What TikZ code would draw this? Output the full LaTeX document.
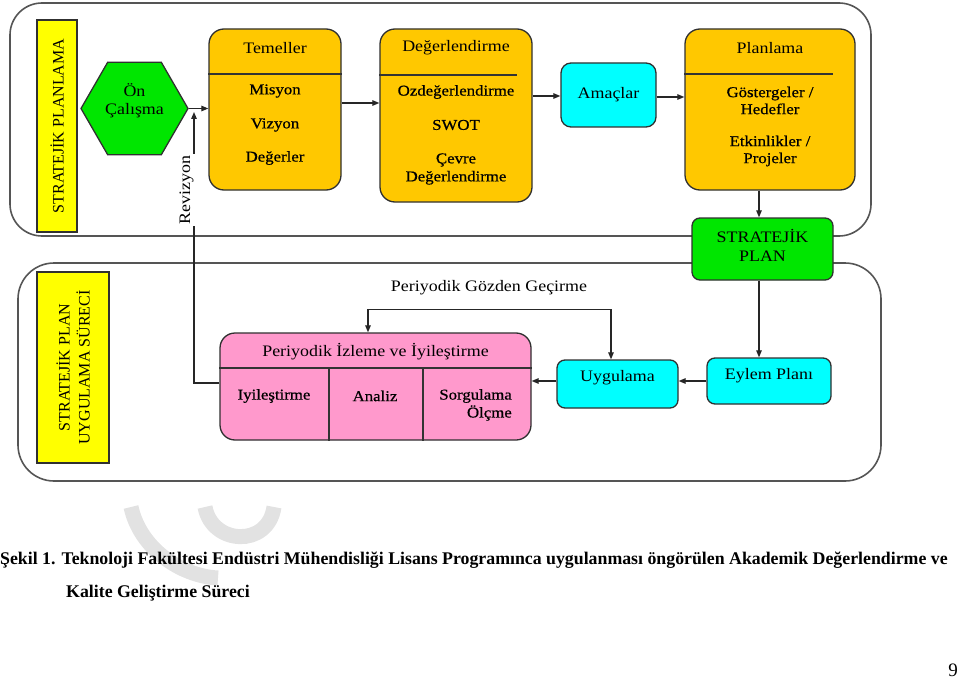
\documentclass[tikz,border=0pt]{standalone}
\usepackage{fontspec}
\setmainfont{Liberation Serif}
\newfontfamily\bxfont[FakeStretch=1.12]{Liberation Serif}
\newfontfamily\bxbold[FakeStretch=1.12,FakeBold=0.7]{Liberation Serif}
\usetikzlibrary{arrows.meta,shapes.geometric,calc}
\definecolor{yelL}{HTML}{FFFF00}
\definecolor{grnB}{HTML}{00E600}
\definecolor{orgB}{HTML}{FFC800}
\definecolor{cynB}{HTML}{00FFFF}
\definecolor{pnkB}{HTML}{FF99CC}
\definecolor{bord}{HTML}{303030}
\definecolor{frm}{HTML}{555555}
\definecolor{wmk}{HTML}{E2E2E2}
\tikzset{
  frame/.style={draw=frm, line width=1.6pt},
  box/.style={draw=bord, line width=1.3pt, inner sep=0pt},
  ttl/.style={font=\bxfont\fontsize{16}{18}\selectfont, inner sep=0pt, align=center},
  itm/.style={font=\bxbold\fontsize{15}{17}\selectfont, inner sep=0pt, align=center},
  lbl/.style={font=\fontsize{16}{20}\selectfont, inner sep=0pt, align=center, rotate=90},
  arr/.style={draw=black!85, line width=1.2pt, -{Triangle[length=7pt,width=5.5pt]}},
  arrtwo/.style={draw=black!85, line width=1.2pt, {Triangle[length=7pt,width=5.5pt]}-{Triangle[length=7pt,width=5.5pt]}},
  hline/.style={draw=black!80, line width=1.3pt},
}
\begin{document}
\begin{tikzpicture}[x=1pt,y=-1pt]
\useasboundingbox (0,0) rectangle (960,679);
% watermark remnants
\draw[wmk, line width=15pt] (131,507) .. controls (140,548) and (180,576) .. (218,578);
\draw[wmk, line width=15pt] (205,507) .. controls (212,545) and (268,548) .. (274,507);
% frames
\draw[frame, rounded corners=32pt] (10,3) rectangle (871,236);
\draw[frame, rounded corners=36pt] (18,263) rectangle (881,481);
% side labels
\node[box, fill=yelL, minimum width=40pt, minimum height=212pt] (lab1) at (57,126) {};
\node[lbl] at (lab1.center) {STRATEJİK PLANLAMA};
\node[box, fill=yelL, minimum width=72pt, minimum height=191pt] (lab2) at (73,367.5) {};
\node[lbl] at (lab2.center) {STRATEJİK PLAN\\UYGULAMA SÜRECİ};
% hexagon
\node[box, fill=grnB, regular polygon, regular polygon sides=6, minimum size=107pt] (hex) at (134.5,108.5) {};
\node[ttl] at (134.5,101) {Ön\\Çalışma};
% Temeller
\node[box, fill=orgB, rounded corners=15pt, minimum width=132pt, minimum height=161pt] (tem) at (275,109.5) {};
\node[ttl] at (275,48) {Temeller};
\draw[hline] (tem.west |- 0,74) -- (tem.east |- 0,74);
\node[itm] at (275,91) {Misyon};
\node[itm] at (275,125) {Vizyon};
\node[itm] at (275,158) {Değerler};
% Degerlendirme
\node[box, fill=orgB, rounded corners=15pt, minimum width=152pt, minimum height=173pt] (deg) at (456,115.5) {};
\node[ttl] at (456,48) {Değerlendirme};
\draw[hline] (deg.west |- 0,75) -- (517,75);
\node[itm] at (456,92) {Ozdeğerlendirme};
\node[itm] at (456,125) {SWOT};
\node[itm, font=\bxbold\fontsize{15}{18}\selectfont] at (456,169) {Çevre\\Değerlendirme};
% Amaclar
\node[box, fill=cynB, rounded corners=10pt, minimum width=95pt, minimum height=64pt] (amac) at (608.5,95) {};
\node[ttl] at (amac.center) {Amaçlar};
% Planlama
\node[box, fill=orgB, rounded corners=15pt, minimum width=170pt, minimum height=161pt] (plan) at (770,109.5) {};
\node[ttl] at (770,48) {Planlama};
\draw[hline] (plan.west |- 0,74) -- (833,74);
\node[itm] at (770,100.5) {Göstergeler /\\Hedefler};
\node[itm] at (770,151) {Etkinlikler /\\Projeler};
% Stratejik plan
\node[box, fill=grnB, rounded corners=8pt, minimum width=141pt, minimum height=62pt] (strat) at (762.5,249) {};
\node[ttl, font=\bxfont\fontsize{16}{19}\selectfont] at (762.5,245.5) {STRATEJİK\\PLAN};
% Pink
\node[box, fill=pnkB, rounded corners=15pt, minimum width=311pt, minimum height=107pt] (pink) at (375.5,386.5) {};
\node[ttl] at (375.5,352) {Periyodik İzleme ve İyileştirme};
\draw[hline] (pink.west |- 0,368) -- (pink.east |- 0,368);
\draw[hline] (329,368) -- (329,0 |- pink.south);
\draw[hline] (423,368) -- (423,0 |- pink.south);
\node[itm] at (274,396) {Iyileştirme};
\node[itm] at (375,396) {Analiz};
\node[itm, anchor=east] at (512,396) {Sorgulama};
\node[itm, anchor=east] at (512,413) {Ölçme};
% Uygulama, Eylem
\node[box, fill=cynB, rounded corners=8pt, minimum width=121pt, minimum height=48pt] (uyg) at (617.5,384) {};
\node[ttl] at (617.5,378) {Uygulama};
\node[box, fill=cynB, rounded corners=8pt, minimum width=124pt, minimum height=46pt] (eyl) at (769,381) {};
\node[ttl] at (769,376) {Eylem Planı};
% arrows
\draw[arr] (hex.east) -- (hex.east -| tem.west);
\draw[arr] ([yshift=6.5pt]tem.east) -- ([yshift=6.5pt]tem.east -| deg.west);
\draw[arr] ([yshift=19.5pt]deg.east) -- ([yshift=19.5pt]deg.east -| amac.west);
\draw[arr] ([yshift=-2pt]amac.east) -- ([yshift=-2pt]amac.east -| plan.west);
\draw[arr] ([xshift=-11pt]plan.south) -- ([xshift=-11pt]plan.south |- strat.north);
\draw[arr] ([xshift=-3.5pt]strat.south) -- ([xshift=-3.5pt]strat.south |- eyl.north);
\draw[arr] (eyl.west) -- (eyl.west -| uyg.east);
\draw[arr] ([yshift=3pt]uyg.west) -- ([yshift=3pt]uyg.west -| pink.east);
\draw[arrtwo] ([xshift=-7.5pt]pink.north) -- ++(0,-23) -| ([xshift=-6.5pt]uyg.north);
\node[ttl] at (489,288) {Periyodik Gözden Geçirme};
\coordinate (revend) at (194,112);
\draw[arr] ([yshift=3.5pt]pink.west) -| (revend);
\node[ttl, rotate=90, fill=white, inner sep=2pt] at (186.5,190) {Revizyon};
% caption
\node[anchor=base west, inner sep=0pt, font=\bfseries\fontsize{17.8}{20}\selectfont] (cap1) at (0,564) {Şekil 1. Teknoloji Fakültesi Endüstri Mühendisliği Lisans Programınca uygulanması öngörülen Akademik Değerlendirme ve};
\node[anchor=base west, inner sep=0pt, font=\bfseries\fontsize{17.8}{20}\selectfont] (cap2) at (66,597) {Kalite Geliştirme Süreci};
\node[anchor=base east, inner sep=0pt, font=\fontsize{19}{20}\selectfont] (pg) at (958,676) {9};
\end{tikzpicture}
\end{document}
